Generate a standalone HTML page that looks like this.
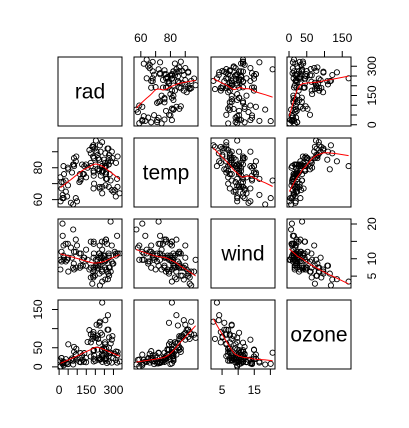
<!DOCTYPE html>
<html><head><meta charset="utf-8"><style>
body{margin:0;background:#fff}
svg{display:block;font-family:"Liberation Sans",Arial,sans-serif}
</style></head><body>
<svg id="c" width="409" height="428"></svg>
<script>
const varNames=["rad","temp","wind","ozone"];
const ozone=[41,36,12,18,23,19,8,16,11,14,18,14,34,6,30,11,1,11,4,32,23,45,115,37,29,71,39,23,21,37,20,12,13,135,49,32,64,40,77,97,97,85,10,27,7,48,35,61,79,63,16,80,108,20,52,82,50,64,59,39,9,16,122,89,110,44,28,65,22,59,23,31,44,21,9,45,168,73,76,118,84,85,96,78,73,91,47,32,20,23,21,24,44,21,28,9,13,46,18,13,24,16,13,23,36,7,14,30,14,18,20];
const rad=[190,118,149,313,299,99,19,256,290,274,65,334,307,78,322,44,8,320,25,92,13,252,223,279,127,291,323,148,191,284,37,120,137,269,248,236,175,314,276,267,272,175,264,175,48,260,274,285,187,220,7,294,223,81,82,213,275,253,254,83,24,77,255,229,207,192,273,157,71,51,115,244,190,259,36,212,238,215,203,225,237,188,167,197,183,189,95,92,252,220,230,259,236,259,238,24,112,237,224,27,238,201,238,14,139,49,20,193,191,131,223];
const wind=[7.4,8.0,12.6,11.5,8.6,13.8,20.1,9.7,9.2,10.9,13.2,11.5,12.0,18.4,11.5,9.7,9.7,16.6,9.7,12.0,12.0,14.9,5.7,7.4,9.7,13.8,11.5,8.0,14.9,20.7,9.2,11.5,10.3,4.1,9.2,9.2,4.6,10.9,5.1,6.3,5.7,7.4,14.3,14.9,14.3,6.9,10.3,6.3,5.1,11.5,6.9,8.6,8.0,8.6,12.0,7.4,7.4,7.4,9.2,6.9,13.8,7.4,4.0,10.3,8.0,11.5,11.5,9.7,10.3,6.3,7.4,10.9,10.3,15.5,14.3,9.7,3.4,8.0,9.7,2.3,6.3,6.3,6.9,5.1,2.8,4.6,7.4,15.5,10.9,10.3,10.9,9.7,14.9,15.5,6.3,10.9,11.5,6.9,13.8,10.3,10.3,8.0,12.6,9.2,10.3,10.3,16.6,6.9,14.3,8.0,11.5];
const temp=[67,72,74,62,65,59,61,69,66,68,58,64,66,57,68,62,59,73,61,61,67,81,79,76,82,90,87,82,77,72,65,73,76,84,85,81,83,83,88,92,92,89,73,81,80,81,82,84,87,85,74,86,85,82,86,88,86,83,81,81,81,82,89,90,90,86,82,80,77,79,76,78,78,77,72,79,81,86,97,94,96,94,91,92,93,93,87,84,80,78,75,73,81,76,77,71,71,78,67,76,68,82,64,71,81,69,63,70,75,76,68];
const radTicks=[0,50,100,150,200,250,300], radLabels=[0,150,300];
const tempTicks=[60,70,80,90], tempLabels=[60,80];
const windTicks=[5,10,15,20], windBottomLabels=[5,15], windRightLabels=[5,10,20];
const ozoneTicks=[0,50,100,150], ozoneLabels=[0,50,150];

const data=[rad,temp,wind,ozone];
const colX=[58,134,211,287], rowY=[57,138,219,300], W=64, H=69;
const NS="http://www.w3.org/2000/svg";
const svg=document.getElementById('c');
function mk(tag,attrs,parent){const e=document.createElementNS(NS,tag);for(const k in attrs)e.setAttribute(k,attrs[k]);(parent||svg).appendChild(e);return e;}
function range(v){let mn=Math.min(...v),mx=Math.max(...v),d=(mx-mn)*0.04;return[mn-d,mx+d];}
const ranges=data.map(range);
function sx(j,v){const r=ranges[j];return colX[j]+(v-r[0])/(r[1]-r[0])*W;}
function sy(i,v){const r=ranges[i];return rowY[i]+H-(v-r[0])/(r[1]-r[0])*H;}

function lowess(x,y,f=2/3,iter=3){
  const n=x.length,idx=[...Array(n).keys()].sort((a,b)=>x[a]-x[b]);
  const xs=idx.map(i=>x[i]),ys=idx.map(i=>y[i]);
  const ns=Math.max(2,Math.min(n,Math.round(f*n)));
  let rw=new Array(n).fill(1),fit=new Array(n);
  for(let it=0;it<=iter;it++){
    for(let i=0;i<n;i++){
      const d=xs.map(v=>Math.abs(v-xs[i])).slice().sort((a,b)=>a-b);
      let h=Math.max(d[ns-1],1e-9);
      let sw=0,sx_=0,sy_=0,sxx=0,sxy=0;
      for(let k=0;k<n;k++){
        let u=Math.abs(xs[k]-xs[i])/h; if(u>=1)continue;
        let w=Math.pow(1-u*u*u,3)*rw[k];
        sw+=w;sx_+=w*xs[k];sy_+=w*ys[k];sxx+=w*xs[k]*xs[k];sxy+=w*xs[k]*ys[k];
      }
      if(sw<=0){fit[i]=ys[i];continue;}
      const mx=sx_/sw,my=sy_/sw,vx=sxx/sw-mx*mx;
      const b=vx>1e-9*(h*h)?(sxy/sw-mx*my)/vx:0;
      fit[i]=my+b*(xs[i]-mx);
    }
    if(it===iter)break;
    const res=ys.map((v,k)=>Math.abs(v-fit[k]));
    const s=res.slice().sort((a,b)=>a-b), med=s[Math.floor(n/2)];
    const c=6*med||1e-9;
    rw=res.map(r=>{const u=r/c;return u<1?Math.pow(1-u*u,2):0;});
  }
  return xs.map((v,k)=>[v,fit[k]]);
}

for(let i=0;i<4;i++)for(let j=0;j<4;j++){
  const g=mk('g',{});
  
  
  const box=mk('rect',{x:colX[j],y:rowY[i],width:W,height:H,fill:'none',stroke:'#000','stroke-width':1},g);
  
  
  if(i===j){
    const t=mk('text',{x:colX[j]+W/2,y:rowY[i]+H/2+7,'font-size':21,'text-anchor':'middle',fill:'#000'},g);
    t.textContent=varNames[i];
    
    
    continue;
  }
  const xv=data[j],yv=data[i];
  for(let k=0;k<xv.length;k++){
    const c=mk('circle',{cx:sx(j,xv[k]).toFixed(1),cy:sy(i,yv[k]).toFixed(1),r:2.6,fill:'none',stroke:'#000','stroke-width':0.9},g);
    
    
  }
  const lw=lowess(xv,yv);
  const p=mk('path',{d:lw.map((q,k)=>(k?'L':'M')+sx(j,q[0]).toFixed(1)+','+sy(i,q[1]).toFixed(1)).join(''),fill:'none',stroke:'#f00','stroke-width':1},g);
  
  
}

function label(x,y,txt,rot,name){
  const t=mk('text',{x:x,y:y,'font-size':12,'text-anchor':'middle',fill:'#000'});
  if(rot)t.setAttribute('transform','rotate(-90 '+x+' '+y+')');
  t.textContent=txt;
  
  
}
function hAxis(j,ticks,labels,top,name){
  const y0=top?rowY[0]:rowY[3]+H, s=top?-1:1;
  const a=mk('path',{d:'M'+sx(j,ticks[0])+','+y0+'H'+sx(j,ticks[ticks.length-1])+ticks.map(t=>'M'+sx(j,t)+','+y0+'v'+(6*s)).join(''),stroke:'#000',fill:'none'});
  
  
  labels.forEach(l=>label(sx(j,l),top?y0-15:y0+25,String(l),false,name+'-tick-label'));
}
function vAxis(i,ticks,labels,left,name){
  const x0=left?colX[0]:colX[3]+W, s=left?-1:1;
  const a=mk('path',{d:'M'+x0+','+sy(i,ticks[0])+'V'+sy(i,ticks[ticks.length-1])+ticks.map(t=>'M'+x0+','+sy(i,t)+'h'+(6*s)).join(''),stroke:'#000',fill:'none'});
  
  
  labels.forEach(l=>label(left?x0-16:x0+25,sy(i,l),String(l),true,name+'-tick-label'));
}
hAxis(1,tempTicks,tempLabels,true,'temp-top');
hAxis(3,ozoneTicks,ozoneLabels,true,'ozone-top');
hAxis(0,radTicks,radLabels,false,'rad-bottom');
hAxis(2,windTicks,windBottomLabels,false,'wind-bottom');
vAxis(0,radTicks,radLabels,false,'rad-right');
vAxis(2,windTicks,windRightLabels,false,'wind-right');
vAxis(1,tempTicks,tempLabels,true,'temp-left');
vAxis(3,ozoneTicks,ozoneLabels,true,'ozone-left');
</script>
</body></html>
